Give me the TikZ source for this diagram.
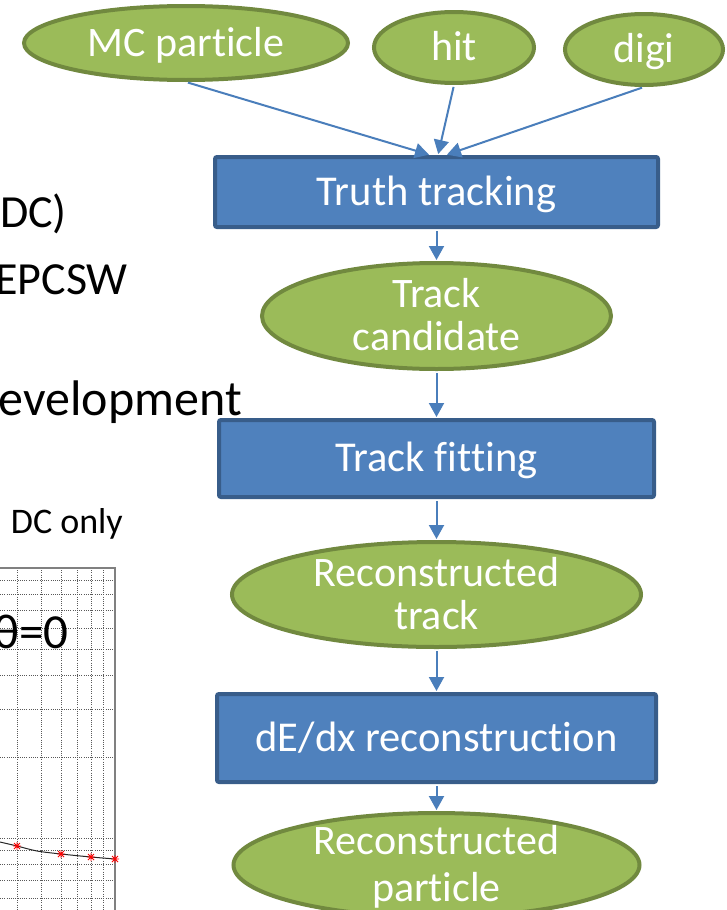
\documentclass[tikz,border=0pt]{standalone}
\usepackage{fontspec}
\setmainfont[Ligatures={NoCommon,NoContextual}]{Carlito}
\usetikzlibrary{shapes.geometric,arrows.meta}

\definecolor{leafgreen}{HTML}{9BBB59}
\definecolor{leafedge}{HTML}{71893F}
\definecolor{stageblue}{HTML}{4F81BD}
\definecolor{stageedge}{HTML}{385D8A}
\definecolor{flowblue}{HTML}{4A7EBB}

% two centred lines, baseline on the last one
\newcommand{\twoline}[2]{\begin{tabular}[b]{@{}c@{}}#1\\#2\end{tabular}}

\begin{document}
\begin{tikzpicture}[x=1pt,y=-1pt,
  dataitem/.style={ellipse, draw=leafedge, fill=leafgreen, line width=4pt,
    inner sep=0pt, text=white, font=\fontsize{42}{43}\selectfont,
    text height=26.5pt, text depth=0pt},
  stagebox/.style={rectangle, rounded corners=2pt, draw=stageedge, fill=stageblue,
    line width=4pt, inner sep=0pt, text=white, font=\fontsize{42.5}{43}\selectfont,
    text height=26.5pt, text depth=0pt},
  flow/.style={draw=flowblue, line width=2pt, shorten <=2pt, shorten >=1pt,
    -{Triangle[length=14pt,width=15pt]}},
  slidetext/.style={inner sep=0pt, anchor=base east, text=black},
  gridline/.style={draw=black!65, line width=0.8pt, dash pattern=on 1pt off 1.2pt},
]
\useasboundingbox (0,0) rectangle (727,910);
\clip (0,0) rectangle (727,910);

% ---- fragment of the resolution plot ----
\foreach \gy in {580,594,610,628,649,675,709,757,838,850,864,880,898}
  \draw[gridline] (0,\gy) -- (115,\gy);
\foreach \gx in {17,41,61,77,91,103}
  \draw[gridline] (\gx,568) -- (\gx,910);
\draw[black!50, line width=1.5pt] (0,568) -- (115,568) -- (115,910);
\draw[black!85, line width=1pt] plot[smooth] coordinates
  {(0,842) (17,846) (37,851) (61,854) (91,857) (115,859)};
\foreach \mx/\my in {17/846, 61/854, 91/857, 115/859}
  \draw[red, line width=0.8pt]
    (\mx-4,\my) -- (\mx+4,\my)
    (\mx,\my-4) -- (\mx,\my+4)
    (\mx-3,\my-3) -- (\mx+3,\my+3)
    (\mx-3,\my+3) -- (\mx+3,\my-3);

% ---- slide text ----
\node[slidetext, font=\fontsize{46}{50}\selectfont] (dc) at (67,227) {DC)};
\node[slidetext, font=\fontsize{46}{50}\selectfont] (epcsw) at (128,294) {EPCSW};
\node[slidetext, font=\fontsize{50}{55}\selectfont] (devel) at (242,415) {evelopment};
\node[slidetext, font=\fontsize{36}{40}\selectfont] (dconly) at (123,533) {DC only};
\node[slidetext, font=\fontsize{49}{54}\selectfont] (theta) at (69,648) {θ=0};

% ---- data flow ----
\node[dataitem, minimum width=324pt, minimum height=74pt] (mc) at (186,43) {MC particle};
\node[dataitem, minimum width=160pt, minimum height=71pt] (hit) at (454,47.5) {hit};
\node[dataitem, minimum width=158pt, minimum height=71pt] (digi) at (644,49.5) {digi};

\node[stagebox, minimum width=443pt, minimum height=70pt] (truth) at (436.5,192) {Truth tracking};
\node[dataitem, minimum width=349pt, minimum height=106pt, text height=69.5pt]
  (cand) at (436.5,316) {\twoline{Track}{candidate}};
\node[stagebox, minimum width=435pt, minimum height=77pt] (fit) at (436.5,458.5) {Track fitting};
\node[dataitem, minimum width=409pt, minimum height=105pt, text height=69.5pt]
  (rtrack) at (436.5,594.5) {\twoline{Reconstructed}{track}};
\node[stagebox, minimum width=439pt, minimum height=88pt] (dedx) at (436.5,738) {dE/dx reconstruction};
\node[dataitem, minimum width=406pt, minimum height=100pt, text height=73.5pt,
  font=\fontsize{42}{47}\selectfont]
  (rpart) at (436.5,865) {\twoline{Reconstructed}{particle}};

\draw[flow] (mc.south) -- ([xshift=-6.5pt]truth.north);
\draw[flow] (hit.south) -- ([xshift=1.5pt]truth.north);
\draw[flow] (digi.south) -- ([xshift=9.5pt]truth.north);
\draw[flow] (truth.south) -- (cand.north);
\draw[flow] (cand.south) -- (fit.north);
\draw[flow] (fit.south) -- (rtrack.north);
\draw[flow] (rtrack.south) -- (dedx.north);
\draw[flow] (dedx.south) -- (rpart.north);
\end{tikzpicture}
\end{document}
